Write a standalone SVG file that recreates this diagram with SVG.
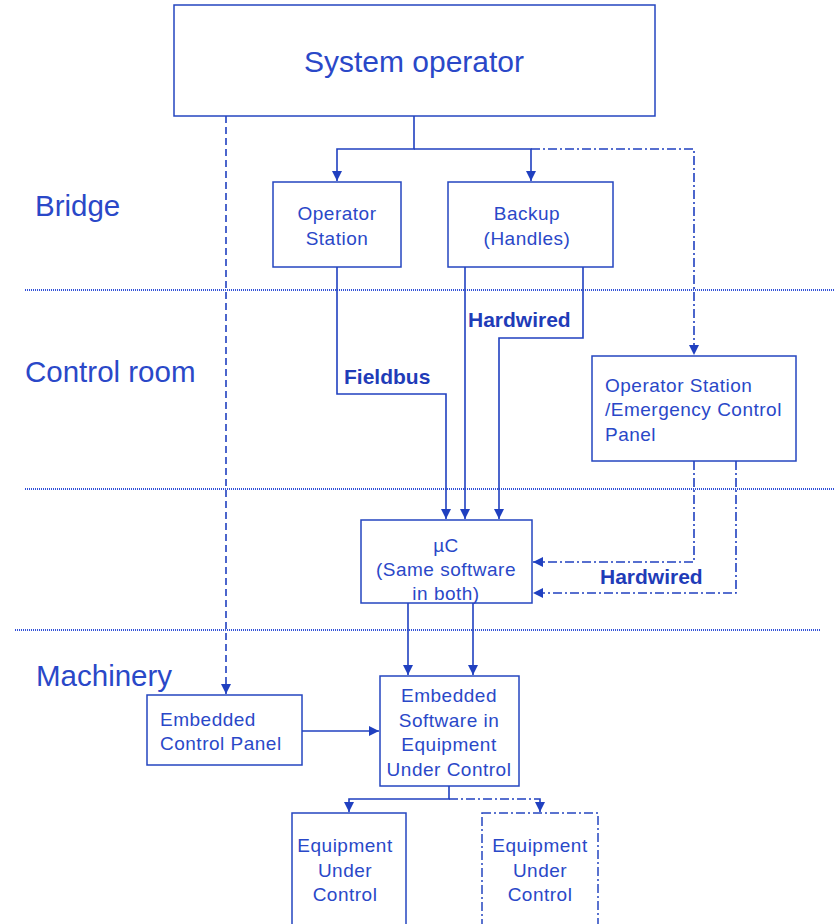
<svg xmlns="http://www.w3.org/2000/svg" width="834" height="924" viewBox="0 0 834 924">
<style>
.box{fill:#fff;stroke:#2546c0;stroke-width:1.5}
.dd{stroke-dasharray:9 3 2 3}
.t{font-family:"Liberation Sans",Arial,sans-serif;fill:#2a48c8;font-size:19px;letter-spacing:0.5px}
.c{text-anchor:middle}
.lab{font-family:"Liberation Sans",Arial,sans-serif;fill:#2a48c8;font-size:29.5px}
.b{font-family:"Liberation Sans",Arial,sans-serif;fill:#1f3cb8;font-size:21px;font-weight:bold}
.ln{fill:none;stroke:#2040c0;stroke-width:1.6}
.sep{fill:none;stroke:#3050d8;stroke-width:2;stroke-dasharray:1 1}
</style>
<defs>
<marker id="ah" viewBox="0 0 10 10" refX="10" refY="5" markerWidth="11" markerHeight="10" markerUnits="userSpaceOnUse" orient="auto"><path d="M0,0L10,5L0,10z" fill="#2040c0"/></marker>
</defs>
<rect width="834" height="924" fill="#fff"/>
<g id="separators">
<line class="sep" x1="25" y1="290" x2="834" y2="290"/>
<line class="sep" x1="25" y1="489" x2="834" y2="489"/>
<line class="sep" x1="15" y1="630" x2="820" y2="630"/>
</g>
<g id="zone-labels">
<text class="lab" x="35" y="216">Bridge</text>
<text class="lab" x="25" y="382">Control room</text>
<text class="lab" x="36" y="686">Machinery</text>
</g>
<g id="connectors">
<path class="ln" d="M414,116V149H337V181" marker-end="url(#ah)"/>
<path class="ln" d="M414,149H531V181" marker-end="url(#ah)"/>
<path class="ln dd" d="M531,149H694V355" marker-end="url(#ah)"/>
<path class="ln" d="M226,116V694" stroke-dasharray="7 4" marker-end="url(#ah)"/>
<path class="ln" d="M337,267V394H446V519" marker-end="url(#ah)"/>
<path class="ln" d="M465,267V519" marker-end="url(#ah)"/>
<path class="ln" d="M583,267V338H499V519" marker-end="url(#ah)"/>
<path class="ln dd" d="M694,461V562H533" marker-end="url(#ah)"/>
<path class="ln dd" d="M736,461V593H533" marker-end="url(#ah)"/>
<path class="ln" d="M408,603V675" marker-end="url(#ah)"/>
<path class="ln" d="M473,603V675" marker-end="url(#ah)"/>
<path class="ln" d="M302,731H379" marker-end="url(#ah)"/>
<path class="ln" d="M449,786V799H349V812" marker-end="url(#ah)"/>
<path class="ln dd" d="M449,799H540V812" marker-end="url(#ah)"/>
<text class="b" x="344" y="384">Fieldbus</text>
<text class="b" x="468" y="327">Hardwired</text>
<text class="b" x="600" y="584">Hardwired</text>
</g>
<g id="system-operator">
<rect class="box" x="174" y="5" width="481" height="111"/>
<text class="t c" x="414" y="72" style="font-size:30px;letter-spacing:0">System operator</text>
</g>
<g id="operator-station">
<rect class="box" x="273" y="182" width="128" height="85"/>
<text class="t c" x="337" y="220">Operator</text>
<text class="t c" x="337" y="245">Station</text>
</g>
<g id="backup">
<rect class="box" x="448" y="182" width="165" height="85"/>
<text class="t c" x="527" y="220">Backup</text>
<text class="t c" x="527" y="245">(Handles)</text>
</g>
<g id="emergency-panel">
<rect class="box" x="592" y="356" width="204" height="105"/>
<text class="t" x="605" y="392">Operator Station</text>
<text class="t" x="605" y="416">/Emergency Control</text>
<text class="t" x="605" y="441">Panel</text>
</g>
<g id="uc">
<rect class="box" x="361" y="520" width="171" height="83"/>
<text class="t c" x="446" y="552">µC</text>
<text class="t c" x="446" y="576">(Same software</text>
<text class="t c" x="446" y="600">in both)</text>
</g>
<g id="embedded-control-panel">
<rect class="box" x="147" y="695" width="155" height="70"/>
<text class="t" x="160" y="726">Embedded</text>
<text class="t" x="160" y="750">Control Panel</text>
</g>
<g id="embedded-software">
<rect class="box" x="380" y="676" width="139" height="110"/>
<text class="t c" x="449" y="702">Embedded</text>
<text class="t c" x="449" y="727">Software in</text>
<text class="t c" x="449" y="751">Equipment</text>
<text class="t c" x="449" y="776">Under Control</text>
</g>
<g id="equipment-1">
<rect class="box" x="292" y="813" width="114" height="120"/>
<text class="t c" x="345" y="852">Equipment</text>
<text class="t c" x="345" y="877">Under</text>
<text class="t c" x="345" y="901">Control</text>
</g>
<g id="equipment-2">
<rect class="box dd" x="482" y="813" width="116" height="120"/>
<text class="t c" x="540" y="852">Equipment</text>
<text class="t c" x="540" y="877">Under</text>
<text class="t c" x="540" y="901">Control</text>
</g>
</svg>
